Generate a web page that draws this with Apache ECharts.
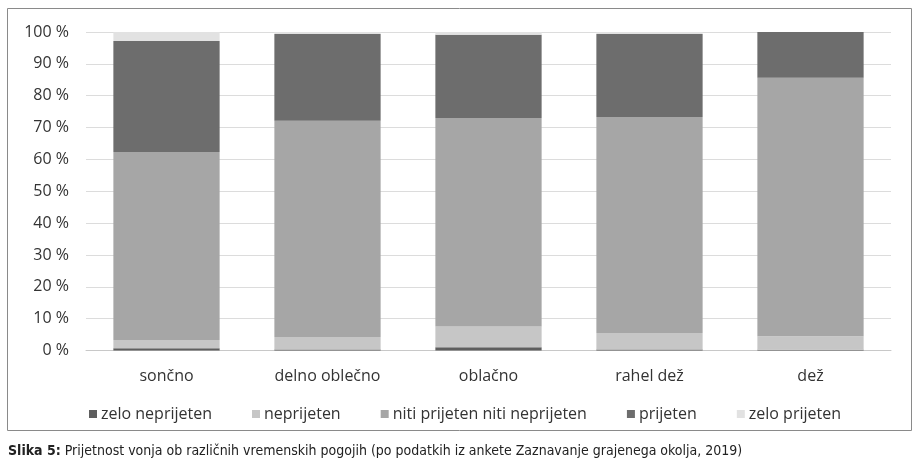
<!DOCTYPE html>
<html>
<head>
<meta charset="utf-8">
<script src="https://cdn.jsdelivr.net/npm/echarts@6/dist/echarts.min.js"></script>
<style>
html,body{margin:0;padding:0;background:#fff;}
#chart{width:919px;height:475px;}
</style>
</head>
<body>
<div id="chart"></div>
<script>
const categories = ['sončno', 'delno oblečno', 'oblačno', 'rahel dež', 'dež'];
const seriesNames = ['zelo neprijeten', 'neprijeten', 'niti prijeten niti neprijeten', 'prijeten', 'zelo prijeten'];
const zeloNeprijeten = [0.7, 0.3, 1.0, 0.3, 0.2];
const neprijeten = [2.6, 3.9, 6.5, 5.2, 4.3];
const niti = [59.0, 67.9, 65.5, 67.8, 81.1];
const prijeten = [34.9, 27.3, 26.1, 26.1, 14.4];
const zeloPrijeten = [2.8, 0.6, 0.9, 0.6, 0.0];
const yTicks = [0, 10, 20, 30, 40, 50, 60, 70, 80, 90, 100];
const caption = 'Prijetnost vonja ob različnih vremenskih pogojih (po podatkih iz ankete Zaznavanje grajenega okolja, 2019)';

const colors = ['#5e5e5e', '#c6c6c6', '#a6a6a6', '#6d6d6d', '#e2e2e2'];
const values = [zeloNeprijeten, neprijeten, niti, prijeten, zeloPrijeten];
const FONT = 'Open Sans';
const CAP_FONT = 'DejaVu Sans Condensed';

const chart = echarts.init(document.getElementById('chart'));
chart.setOption({
  animation: false,
  color: colors,
  grid: { left: 86, right: 28, top: 32, bottom: 124.5 },
  xAxis: {
    type: 'category',
    data: categories,
    axisTick: { show: false },
    axisLine: { show: true, lineStyle: { color: '#c8c8c8', width: 1 } },
    axisLabel: { color: '#333', fontFamily: FONT, fontSize: 16, margin: 18 }
  },
  yAxis: {
    type: 'value',
    min: yTicks[0],
    max: yTicks[yTicks.length - 1],
    interval: 10,
    axisLine: { show: false },
    axisTick: { show: false },
    splitLine: { lineStyle: { color: '#dcdcdc', width: 1 } },
    axisLabel: { color: '#333', fontFamily: FONT, fontSize: 16, margin: 17, formatter: v => v + ' %' }
  },
  legend: {
    left: 84,
    top: 401,
    itemWidth: 8,
    itemHeight: 8,
    itemGap: 40,
    icon: 'rect',
    textStyle: { color: '#333', fontFamily: FONT, fontSize: 16, padding: [0, 0, 0, -1] },
    data: seriesNames
  },
  series: seriesNames.map((n, i) => ({
    name: n,
    type: 'bar',
    stack: 'total',
    barWidth: '66%',
    data: values[i],
    itemStyle: { color: colors[i] }
  })),
  graphic: [
    {
      type: 'rect',
      shape: { x: 7.5, y: 8.5, width: 904, height: 422 },
      style: { fill: 'none', stroke: '#8a8a8a', lineWidth: 1 },
      silent: true
    },
    {
      type: 'text',
      left: 8,
      top: 444,
      style: {
        text: '{b|Slika 5:} ' + caption,
        rich: {
          b: { fontWeight: 'bold', fontFamily: CAP_FONT, fontSize: 14, fill: '#222' }
        },
        fontFamily: CAP_FONT,
        fontSize: 14,
        fill: '#222'
      }
    }
  ]
});
</script>
</body>
</html>
